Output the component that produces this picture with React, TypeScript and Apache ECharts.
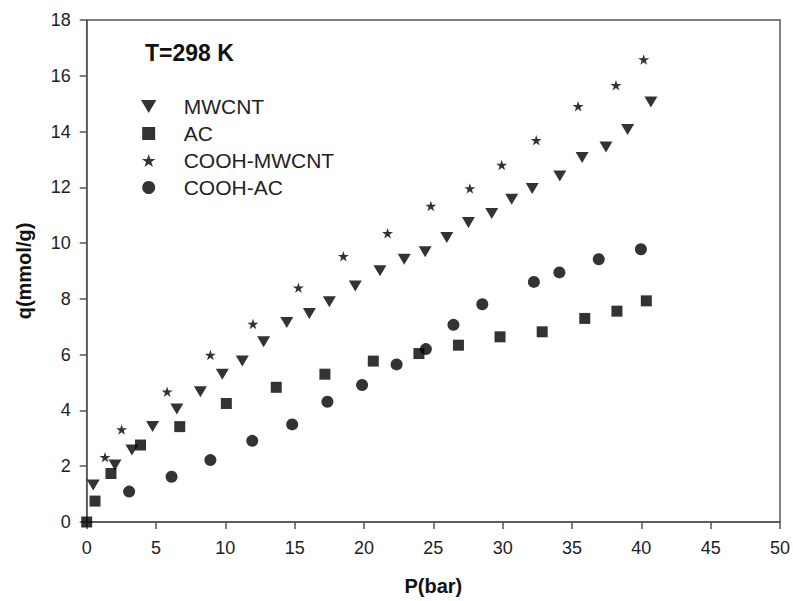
import React, { useEffect, useRef } from "react";
import * as echarts from "echarts";

const seriesNames = ["MWCNT", "AC", "COOH-MWCNT", "COOH-AC"];

const mwcntP = [0.47, 2.04, 3.26, 4.75, 6.5, 8.2, 9.78, 11.22, 12.76, 14.43, 16.06, 17.5, 19.37, 21.15, 22.9, 24.41, 25.97, 27.53, 29.21, 30.65, 32.13, 34.12, 35.73, 37.45, 39.01, 40.69];
const mwcntQ = [1.33, 2.04, 2.58, 3.42, 4.05, 4.67, 5.3, 5.77, 6.46, 7.15, 7.48, 7.9, 8.46, 9.01, 9.42, 9.69, 10.2, 10.74, 11.06, 11.57, 11.96, 12.41, 13.07, 13.45, 14.07, 15.06];

const acP = [0, 0.6, 1.75, 3.88, 6.71, 10.07, 13.67, 17.18, 20.67, 23.96, 26.81, 29.81, 32.85, 35.92, 38.24, 40.36];
const acQ = [0, 0.75, 1.74, 2.76, 3.42, 4.25, 4.83, 5.3, 5.77, 6.04, 6.34, 6.64, 6.82, 7.3, 7.56, 7.93];

const coohMwcntP = [1.32, 2.52, 5.8, 8.92, 11.99, 15.27, 18.51, 21.7, 24.82, 27.63, 29.93, 32.42, 35.44, 38.17, 40.17];
const coohMwcntQ = [2.32, 3.32, 4.67, 5.99, 7.1, 8.4, 9.53, 10.35, 11.33, 11.96, 12.8, 13.69, 14.91, 15.66, 16.58];

const coohAcP = [3.06, 6.12, 8.92, 11.94, 14.82, 17.36, 19.86, 22.35, 24.46, 26.45, 28.53, 32.25, 34.09, 36.93, 39.97];
const coohAcQ = [1.09, 1.62, 2.22, 2.91, 3.5, 4.31, 4.91, 5.65, 6.2, 7.07, 7.81, 8.61, 8.95, 9.42, 9.78];

const xTicks = { min: 0, max: 50, interval: 5 };
const yTicks = { min: 0, max: 18, interval: 2 };

const STAR =
  "path://M100,0 L122.45,69.1 L195.11,69.1 L136.33,111.8 L158.78,180.9 L100,138.2 L41.22,180.9 L63.67,111.8 L4.89,69.1 L77.55,69.1 Z";
const DOWN_TRIANGLE = "path://M0,0 L130,0 L65,110 Z";
const SQUARE = "path://M0,0 L100,0 L100,100 L0,100 Z";

const zip = (xs: number[], ys: number[]) => xs.map((x, i) => [x, ys[i]]);

export default function App() {
  const ref = useRef<HTMLDivElement>(null);
  useEffect(() => {
    if (!ref.current) return;
    const chart = echarts.init(ref.current, undefined, { renderer: "svg" });
    const font = "'Liberation Sans', Arial, sans-serif";
    const axisColor = "#555";
    chart.setOption({
      animation: false,
      backgroundColor: "#fff",
      textStyle: { fontFamily: font },
      title: {
        text: "T=298 K",
        left: 145,
        top: 41,
        padding: 0,
        textStyle: { fontFamily: font, fontSize: 23, fontWeight: "bold", color: "#111" },
      },
      legend: {
        orient: "vertical",
        left: 141,
        top: 96,
        padding: 0,
        itemWidth: 60,
        itemHeight: 13,
        itemGap: 6,
        data: seriesNames,
        textStyle: { fontFamily: font, fontSize: 21, color: "#222", lineHeight: 20 },
      },
      grid: {
        left: 86.7,
        right: 11.3,
        top: 20,
        bottom: 79,
        show: true,
        borderColor: axisColor,
        borderWidth: 1.5,
      },
      xAxis: {
        type: "value",
        ...xTicks,
        name: "P(bar)",
        nameLocation: "middle",
        nameGap: 54,
        nameTextStyle: { fontFamily: font, fontSize: 20, fontWeight: "bold", color: "#111" },
        axisLine: { show: true, onZero: false, lineStyle: { color: axisColor, width: 1.5 } },
        axisTick: { show: true, inside: false, length: 7, lineStyle: { color: axisColor, width: 1.5 } },
        axisLabel: { fontFamily: font, fontSize: 18, color: "#222", margin: 17 },
        splitLine: { show: false },
      },
      yAxis: {
        type: "value",
        ...yTicks,
        name: "q(mmol/g)",
        nameLocation: "middle",
        nameGap: 53,
        nameTextStyle: { fontFamily: font, fontSize: 20, fontWeight: "bold", color: "#111" },
        axisLine: { show: true, onZero: false, lineStyle: { color: axisColor, width: 1.5 } },
        axisTick: { show: true, inside: false, length: 7, lineStyle: { color: axisColor, width: 1.5 } },
        axisLabel: { fontFamily: font, fontSize: 18, color: "#222", margin: 16 },
        splitLine: { show: false },
      },
      series: [
        {
          name: seriesNames[0],
          type: "scatter",
          symbol: DOWN_TRIANGLE,
          symbolKeepAspect: true,
          symbolSize: 13,
          itemStyle: { color: "#000" },
          data: zip(mwcntP, mwcntQ),
        },
        {
          name: seriesNames[1],
          type: "scatter",
          symbol: SQUARE,
          symbolKeepAspect: true,
          symbolSize: 11,
          itemStyle: { color: "#000" },
          data: zip(acP, acQ),
        },
        {
          name: seriesNames[2],
          type: "scatter",
          symbol: STAR,
          symbolKeepAspect: true,
          symbolSize: 11,
          itemStyle: { color: "#000" },
          data: zip(coohMwcntP, coohMwcntQ),
        },
        {
          name: seriesNames[3],
          type: "scatter",
          symbol: "circle",
          symbolKeepAspect: true,
          symbolSize: 12,
          itemStyle: { color: "#000" },
          data: zip(coohAcP, coohAcQ),
        },
      ],
    });
    return () => chart.dispose();
  }, []);
  return (
    <div
      ref={ref}
      style={{ position: "fixed", left: 0, top: 0, width: 793, height: 601 }}
    />
  );
}
